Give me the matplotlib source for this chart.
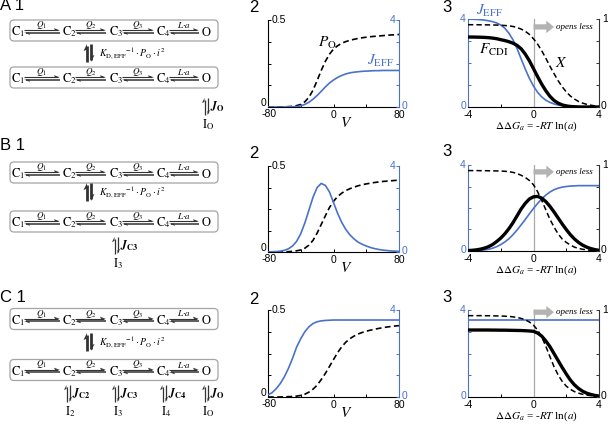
import matplotlib.pyplot as plt
from matplotlib.patches import FancyBboxPatch, Polygon

plt.rcParams['font.family'] = ['Liberation Sans', 'DejaVu Sans']
plt.rcParams['mathtext.fontset'] = 'stix'

BLUE = '#4a72c9'
DARK = '#333333'

# ---- panel 2 data: V (mV), open probability (left axis), J_EFF (right axis)
v = [-80, -75, -70, -65, -60, -55, -50, -45, -40, -35, -30, -25, -20, -15, -10, -5, 0,
     5, 10, 15, 20, 25, 30, 35, 40, 45, 50, 55, 60, 65, 70, 75, 80]

po_a = [0, 0, 0, 0.001, 0.001, 0.002, 0.004, 0.008, 0.015, 0.030, 0.056, 0.097, 0.152, 0.210,
        0.262, 0.303, 0.333, 0.352, 0.366, 0.376, 0.383, 0.389, 0.394, 0.398, 0.401, 0.404,
        0.406, 0.408, 0.410, 0.412, 0.414, 0.415, 0.417]
jeff_a = [0, 0, 0, 0, 0, 0.01, 0.01, 0.02, 0.05, 0.12, 0.22, 0.36, 0.53, 0.72, 0.92, 1.10,
          1.24, 1.36, 1.45, 1.52, 1.57, 1.60, 1.62, 1.64, 1.65, 1.66, 1.67, 1.67, 1.68, 1.68,
          1.68, 1.68, 1.68]

po_b = [0, 0, 0, 0.001, 0.001, 0.002, 0.004, 0.007, 0.012, 0.022, 0.040, 0.068, 0.110, 0.160,
        0.210, 0.258, 0.295, 0.322, 0.342, 0.357, 0.368, 0.377, 0.385, 0.391, 0.396, 0.400,
        0.404, 0.407, 0.410, 0.412, 0.414, 0.416, 0.418]
jeff_b = [0.00, 0.01, 0.02, 0.04, 0.08, 0.15, 0.28, 0.50, 0.85, 1.35, 1.95, 2.55, 3.00, 3.19,
          3.10, 2.80, 2.30, 1.80, 1.38, 1.05, 0.80, 0.61, 0.46, 0.36, 0.28, 0.21, 0.16, 0.12,
          0.09, 0.07, 0.05, 0.04, 0.03]

po_c = [0, 0, 0, 0, 0.001, 0.002, 0.003, 0.005, 0.009, 0.016, 0.028, 0.045, 0.068, 0.100,
        0.135, 0.175, 0.215, 0.255, 0.288, 0.315, 0.335, 0.350, 0.362, 0.371, 0.378, 0.384,
        0.389, 0.394, 0.398, 0.402, 0.405, 0.408, 0.410]
jeff_c = [0.10, 0.20, 0.38, 0.62, 0.93, 1.32, 1.78, 2.30, 2.68, 3.00, 3.23, 3.38, 3.46, 3.50,
          3.52, 3.53, 3.54, 3.54, 3.54, 3.54, 3.54, 3.54, 3.54, 3.54, 3.54, 3.54, 3.54, 3.54,
          3.54, 3.54, 3.54, 3.54, 3.54]

# ---- panel 3 data: ddG, J_EFF (left axis), F_CDI and X (right axis)
dg = [-4.0, -3.75, -3.5, -3.25, -3.0, -2.75, -2.5, -2.25, -2.0, -1.75, -1.5, -1.25, -1.0,
      -0.75, -0.5, -0.25, 0.0, 0.25, 0.5, 0.75, 1.0, 1.25, 1.5, 1.75, 2.0, 2.25, 2.5, 2.75,
      3.0, 3.25, 3.5, 3.75, 4.0]

jeff3_a = [3.99, 3.99, 3.98, 3.97, 3.95, 3.92, 3.88, 3.82, 3.73, 3.58, 3.35, 3.05, 2.65, 2.18,
           1.72, 1.30, 0.95, 0.67, 0.46, 0.31, 0.21, 0.14, 0.09, 0.06, 0.04, 0.03, 0.02, 0.01,
           0.01, 0.0, 0.0, 0.0, 0.0]
fcdi_a = [0.795, 0.795, 0.794, 0.793, 0.791, 0.788, 0.783, 0.776, 0.765, 0.755, 0.742, 0.725,
          0.70, 0.66, 0.60, 0.525, 0.435, 0.345, 0.26, 0.185, 0.122, 0.075, 0.044, 0.024, 0.012,
          0.006, 0.003, 0.001, 0.0, 0.0, 0.0, 0.0, 0.0]
x_a = [0.935, 0.935, 0.935, 0.934, 0.934, 0.933, 0.932, 0.931, 0.929, 0.926, 0.922, 0.915,
       0.903, 0.885, 0.86, 0.825, 0.775, 0.715, 0.64, 0.555, 0.465, 0.38, 0.30, 0.23, 0.172,
       0.125, 0.09, 0.063, 0.044, 0.03, 0.02, 0.013, 0.008]

jeff3_b = [0.01, 0.015, 0.02, 0.03, 0.05, 0.08, 0.13, 0.20, 0.30, 0.42, 0.57, 0.76, 0.98, 1.22,
           1.47, 1.73, 1.98, 2.21, 2.42, 2.60, 2.74, 2.85, 2.92, 2.97, 3.00, 3.02, 3.03, 3.04,
           3.04, 3.04, 3.04, 3.04, 3.04]
fcdi_b = [0.005, 0.008, 0.013, 0.021, 0.033, 0.05, 0.075, 0.11, 0.15, 0.20, 0.26, 0.33, 0.41,
          0.49, 0.555, 0.605, 0.63, 0.635, 0.615, 0.575, 0.52, 0.455, 0.385, 0.315, 0.25, 0.19,
          0.14, 0.10, 0.068, 0.045, 0.028, 0.016, 0.008]
x_b = [0.935, 0.935, 0.935, 0.934, 0.934, 0.933, 0.932, 0.931, 0.93, 0.927, 0.922, 0.914, 0.90,
       0.88, 0.855, 0.82, 0.77, 0.69, 0.59, 0.48, 0.37, 0.28, 0.20, 0.14, 0.10, 0.07, 0.045,
       0.03, 0.02, 0.013, 0.008, 0.005, 0.003]

jeff3_c = [3.54, 3.54, 3.54, 3.54, 3.54, 3.54, 3.54, 3.54, 3.54, 3.54, 3.54, 3.54, 3.54, 3.54,
           3.54, 3.54, 3.54, 3.54, 3.54, 3.54, 3.54, 3.54, 3.54, 3.54, 3.54, 3.54, 3.54, 3.54,
           3.54, 3.54, 3.54, 3.54, 3.54]
fcdi_c = [0.77, 0.77, 0.77, 0.77, 0.77, 0.77, 0.769, 0.769, 0.768, 0.768, 0.767, 0.766, 0.765,
          0.764, 0.762, 0.759, 0.755, 0.735, 0.70, 0.645, 0.58, 0.50, 0.42, 0.34, 0.265, 0.195,
          0.14, 0.098, 0.066, 0.044, 0.029, 0.018, 0.011]
x_c = [0.935, 0.935, 0.935, 0.935, 0.934, 0.934, 0.933, 0.932, 0.931, 0.929, 0.926, 0.921,
       0.914, 0.903, 0.887, 0.862, 0.825, 0.77, 0.69, 0.585, 0.465, 0.35, 0.255, 0.18, 0.125,
       0.088, 0.062, 0.044, 0.031, 0.022, 0.016, 0.011, 0.008]

# ---- scheme labels
states = [r'$\mathrm{C}_1$', r'$\mathrm{C}_2$', r'$\mathrm{C}_3$', r'$\mathrm{C}_4$', r'$\mathrm{O}$']
rates = [r'$Q_1$', r'$Q_2$', r'$Q_3$', r'$L{\cdot}a$']
k_label = r'$K_{\mathrm{D,EFF}}{}^{-1}\cdot P_{\mathrm{O}}\cdot i^{2}$'

W, H = 608, 424
fig = plt.figure(figsize=(W / 100, H / 100), dpi=100)

ov = fig.add_axes([0, 0, 1, 1])
ov.set_xlim(0, W)
ov.set_ylim(H, 0)
ov.axis('off')

state_x = [11, 62, 109, 156, 201]
arrow_x = [(24, 60), (75, 106), (122, 154), (169, 199)]


def harpoon_h(a, b, y):
    yu, yl = y - 1.1, y + 1.1
    ov.plot([a, b - 2], [yu, yu], color=DARK, lw=0.8, solid_capstyle='butt')
    ov.add_patch(Polygon([[b, yu], [b - 6, yu - 2.2], [b - 5, yu]], closed=True, fc=DARK, ec='none'))
    ov.plot([a + 2, b], [yl, yl], color=DARK, lw=1.1, solid_capstyle='butt')
    ov.add_patch(Polygon([[a, yl], [a + 6, yl + 2.2], [a + 5, yl]], closed=True, fc=DARK, ec='none'))


def harpoon_v(x, y0, y1, lw, hl, hw, gap):
    xl, xr = x - gap / 2, x + gap / 2
    ov.plot([xl, xl], [y0 + 2, y1], color=DARK, lw=lw, solid_capstyle='butt')
    ov.add_patch(Polygon([[xl, y0], [xl - hw, y0 + hl], [xl, y0 + hl * 0.8]], closed=True, fc=DARK, ec='none'))
    ov.plot([xr, xr], [y0, y1 - 2], color=DARK, lw=lw, solid_capstyle='butt')
    ov.add_patch(Polygon([[xr, y1], [xr + hw, y1 - hl], [xr, y1 - hl * 0.8]], closed=True, fc=DARK, ec='none'))


def chain(yc):
    ov.add_patch(FancyBboxPatch((10, yc - 10.5), 208, 21,
                                boxstyle='round,pad=0,rounding_size=4',
                                fc='none', ec='#a5a5a5', lw=0.9))
    for s, x in zip(states, state_x):
        ov.text(x, yc + 1.5, s, fontsize=9, va='center', ha='left')
    for r, (a, b) in zip(rates, arrow_x):
        harpoon_h(a, b, yc + 1)
        ov.text((a + b) / 2, yc - 5.5, r, fontsize=6.5, ha='center', va='center')


def scheme(top1, top2, kmid, letter, row_y):
    chain(top1)
    chain(top2)
    harpoon_v(89, kmid - 9, kmid + 9, 2.0, 7, 3.5, 4)
    ov.text(99, kmid, k_label, fontsize=7, va='center', ha='left')
    ov.text(0, row_y, letter + ' 1', fontsize=12, va='center', ha='left')


def inactivation(x, ytop, jlab, ilab):
    harpoon_v(x, ytop, ytop + 17, 0.9, 5, 2.5, 3)
    ov.text(x + 4, ytop + 8.5, jlab, fontsize=8.5, va='center', ha='left')
    ov.text(x + 2, ytop + 27, ilab, fontsize=9, va='center', ha='center')


scheme(30.5, 77.5, 53, 'A', 6)
inactivation(206, 98, r'$\mathbfit{J}_{\mathbf{O}}$', r'$\mathrm{I}_{\mathrm{O}}$')

scheme(172.5, 221.5, 192, 'B', 145)
inactivation(116, 237, r'$\mathbfit{J}_{\mathbf{C3}}$', r'$\mathrm{I}_3$')

scheme(319, 370, 342, 'C', 297)
inactivation(68, 385, r'$\mathbfit{J}_{\mathbf{C2}}$', r'$\mathrm{I}_2$')
inactivation(116, 385, r'$\mathbfit{J}_{\mathbf{C3}}$', r'$\mathrm{I}_3$')
inactivation(164, 385, r'$\mathbfit{J}_{\mathbf{C4}}$', r'$\mathrm{I}_4$')
inactivation(206, 385, r'$\mathbfit{J}_{\mathbf{O}}$', r'$\mathrm{I}_{\mathrm{O}}$')


def lab(ax, x, y, s, dx, dy, **kw):
    kw.setdefault('fontsize', 7.5)
    ax.annotate(s, xy=(x, y), xycoords='data', xytext=(dx, dy),
                textcoords='offset pixels', annotation_clip=False, **kw)


def style_twins(ax, ax2, left_c, right_c):
    for a in (ax, ax2):
        a.spines['top'].set_visible(False)
    ax.spines['right'].set_visible(False)
    ax2.spines['left'].set_visible(False)
    ax2.spines['bottom'].set_visible(False)
    ax.spines['left'].set_color(left_c)
    ax2.spines['right'].set_color(right_c)
    ax.tick_params(axis='x', direction='in', length=2.5, width=0.7, labelbottom=False)
    ax.tick_params(axis='y', direction='in', length=2.5, width=0.7, labelleft=False, color=left_c)
    ax2.tick_params(axis='y', direction='in', length=2.5, width=0.7, labelright=False, color=right_c)


def panel2(top, bot, po, jeff, num_y):
    ax = fig.add_axes([268 / W, 1 - bot / H, 131 / W, (bot - top) / H])
    ax.plot(v, po, color='k', lw=1.2, ls=(0, (3.5, 2)))
    ax.set_xlim(-80, 80)
    ax.set_ylim(0, 0.5)
    ax.set_xticks([-80, -40, 0, 40, 80])
    ax.set_yticks([0, 0.125, 0.25, 0.375, 0.5])
    ax2 = ax.twinx()
    ax2.plot(v, jeff, color=BLUE, lw=1.2)
    ax2.set_ylim(0, 4)
    ax2.set_yticks([0, 1, 2, 3, 4])
    style_twins(ax, ax2, 'k', BLUE)
    lab(ax, -80, 0.5, '0.5', 4, 0, va='center', ha='left')
    lab(ax, -80, 0, '0', -2, 4, va='center', ha='right')
    lab(ax, -80, 0, '-80', 1, -7, va='center', ha='center')
    for t in (0, 80):
        lab(ax, t, 0, str(t), 0, -8, va='center', ha='center')
    lab(ax, 15, 0, r'$V$', 0, -16, va='center', ha='center', fontsize=11)
    lab(ax2, 80, 4, '4', -3, 0, va='center', ha='right', color=BLUE)
    lab(ax2, 80, 0, '0', 3, 1, va='center', ha='left', color=BLUE)
    ov.text(249, num_y, '2', fontsize=12, va='center', ha='left')
    return ax, ax2


def panel3(top, bot, jeff, fcdi, xx, arrow_frac, num_y):
    ax = fig.add_axes([468 / W, 1 - bot / H, 131 / W, (bot - top) / H])
    ax.axvline(0, color='#a8a8a8', lw=0.9)
    ax.plot(dg, jeff, color=BLUE, lw=1.2)
    ax.set_xlim(-4, 4)
    ax.set_ylim(0, 4)
    ax.set_xticks([-4, -2, 0, 2, 4])
    ax.set_yticks([0, 1, 2, 3, 4])
    ax2 = ax.twinx()
    ax2.plot(dg, xx, color='k', lw=1.1, ls=(0, (3.5, 2)))
    ax2.plot(dg, fcdi, color='k', lw=2.4)
    ax2.set_ylim(0, 1)
    ax2.set_yticks([0, 0.25, 0.5, 0.75, 1])
    style_twins(ax, ax2, BLUE, '#333333')
    ay = arrow_frac * 4
    ax.annotate('', xy=(1.25, ay), xytext=(0.0, ay), annotation_clip=False,
                arrowprops=dict(arrowstyle='simple,head_length=0.55,head_width=0.9,tail_width=0.38',
                                fc='#b3b3b3', ec='none', shrinkA=0, shrinkB=0, mutation_scale=10))
    ax.text(1.4, ay, 'opens less', fontfamily='Liberation Serif', style='italic',
            fontsize=6.5, va='center', ha='left')
    lab(ax, -4, 4, '4', -3, 0, va='center', ha='right', color=BLUE)
    lab(ax, -4, 0, '0', -2, 1, va='center', ha='right', color=BLUE)
    lab(ax2, 4, 1, '1', 3, 0, va='center', ha='left')
    lab(ax2, 4, 0, '0', 2, 1, va='center', ha='left')
    for t in (-4, 0, 4):
        lab(ax, t, 0, str(t), 0, -8, va='center', ha='center')
    lab(ax, 0.15, 0, r'$\Delta\Delta G_a$ = -$RT$ ln($a$)', 0, -19, va='center', ha='center',
        fontsize=8, fontfamily='Liberation Serif')
    ov.text(442, num_y, '3', fontsize=12, va='center', ha='left')
    return ax, ax2


a2, a2r = panel2(20, 107, po_a, jeff_a, 8)
lab(a2, -8, 0.37, r'$P_{\mathrm{O}}$', 0, 0, fontsize=11, ha='center', va='center')
lab(a2r, 57, 2.1, r'$J_{\mathrm{EFF}}$', 0, 0, fontsize=11, ha='center', va='center', color=BLUE)
a3, a3r = panel3(19, 107, jeff3_a, fcdi_a, x_a, 0.91, 8)
lab(a3, -2.7, 4.36, r'$J_{\mathrm{EFF}}$', 0, 0, fontsize=11, ha='center', va='center', color=BLUE)
lab(a3, -2.45, 2.6, r'$F_{\mathrm{CDI}}$', 0, 0, fontsize=11, ha='center', va='center')
lab(a3, 1.68, 2.0, r'$X$', 0, 0, fontsize=11, ha='center', va='center')

panel2(166, 252, po_b, jeff_b, 153)
panel3(165, 251, jeff3_b, fcdi_b, x_b, 0.92, 152)

panel2(310, 397, po_c, jeff_c, 299)
panel3(310, 397, jeff3_c, fcdi_c, x_c, 0.975, 298)

fig.savefig('out.png', dpi=100)
